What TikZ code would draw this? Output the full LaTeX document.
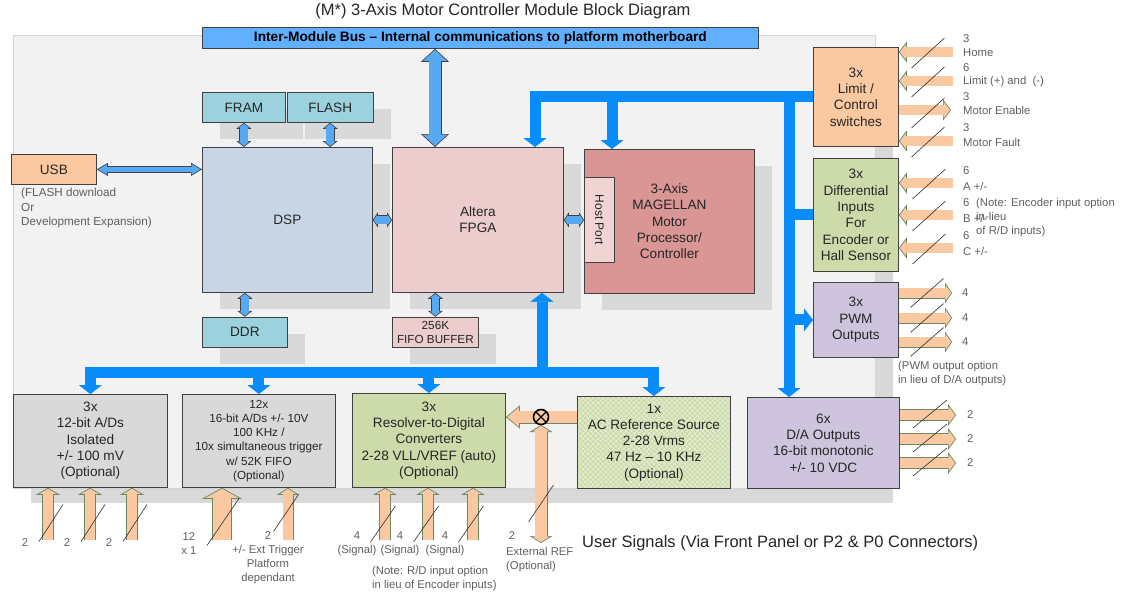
\documentclass[tikz,border=0pt]{standalone}
\usepackage{fontspec}
\setmainfont{Liberation Sans}
\usepackage{tikz}
\usetikzlibrary{arrows.meta, positioning, shadows, patterns.meta, calc}
\definecolor{panelbg}{RGB}{242,242,242}
\definecolor{panelln}{RGB}{212,212,212}
\definecolor{shgray}{RGB}{217,217,217}
\definecolor{boxln}{RGB}{64,64,64}
\definecolor{txtc}{RGB}{38,38,38}
\definecolor{lblc}{RGB}{95,95,95}
\definecolor{slashc}{RGB}{45,45,45}
\definecolor{busbar}{RGB}{97,176,255}
\definecolor{lblue}{RGB}{88,168,242}
\definecolor{busblue}{RGB}{8,140,252}
\definecolor{peach}{RGB}{250,201,162}
\definecolor{sigln}{RGB}{108,138,98}
\definecolor{dspc}{RGB}{200,213,229}
\definecolor{memc}{RGB}{156,210,222}
\definecolor{fpgac}{RGB}{236,204,204}
\definecolor{mpc}{RGB}{217,150,148}
\definecolor{hpc}{RGB}{240,212,212}
\definecolor{grnc}{RGB}{205,219,171}
\definecolor{hatchc}{RGB}{236,242,224}
\definecolor{lavc}{RGB}{206,196,221}
\definecolor{adc}{RGB}{217,217,217}
\tikzset{
  sig/.style n args={3}{draw=sigln, line width=#1,
    -{Triangle[length=#2, width=#3, fill=peach, line width=.7pt]},
    postaction={draw=peach, line width=#1-1.4pt, arrows=-, shorten >=#2-1.5pt}},
  sigtwo/.style n args={3}{draw=sigln, line width=#1,
    {Triangle[length=#2, width=#3, fill=peach, line width=.7pt]}-{Triangle[length=#2, width=#3, fill=peach, line width=.7pt]},
    postaction={draw=peach, line width=#1-1.4pt, arrows=-, shorten <=#2-1.5pt, shorten >=#2-1.5pt}},
  lb/.style n args={3}{draw=boxln, line width=#1,
    {Triangle[length=#2, width=#3, fill=lblue, line width=.6pt]}-{Triangle[length=#2, width=#3, fill=lblue, line width=.6pt]},
    postaction={draw=lblue, line width=#1-1.2pt, arrows=-, shorten <=#2-1.2pt, shorten >=#2-1.2pt}}
}

\begin{document}
\begin{tikzpicture}[x=1pt, y=-1pt, line join=miter]
\tikzstyle{blk}=[draw=boxln, line width=.8pt, text=txtc, align=center, anchor=north west, inner sep=0pt, font=\fontsize{13.6}{16.3}\selectfont]
\tikzstyle{shad}=[general shadow={fill=shgray, shadow xshift=18pt, shadow yshift=-17pt}]
\tikzstyle{lbl}=[text=lblc, inner sep=0pt, font=\fontsize{11.3}{14}\selectfont]
\tikzstyle{bus}=[draw=busblue, line width=11pt, >={Triangle[length=9pt, width=23pt, line width=.4pt]}]
\tikzstyle{slash}=[draw=slashc, line width=.6pt]

\useasboundingbox (0,0) rectangle (1133,594);

% board and its shadow
\fill[shgray] (31,50) rectangle (893,503);
\filldraw[fill=panelbg, draw=panelln, line width=.8pt] (13,35) rectangle (875,488);

\node[text=txtc, font=\fontsize{16.5}{19}\selectfont] (TTL) at (503,11) {(M*) 3-Axis Motor Controller Module Block Diagram};
\node[blk, fill=busbar, minimum width=556pt, minimum height=21pt, text=black, font=\bfseries\fontsize{13.7}{15}\selectfont] (BUS) at (202,27) {Inter-Module Bus – Internal communications to platform motherboard};

% processor core
\node[blk, shad, fill=memc, minimum width=83pt, minimum height=30pt] (FRAM) at (202,92) {FRAM};
\node[blk, shad, fill=memc, minimum width=86pt, minimum height=30pt, right=1pt of FRAM] (FLASH) {FLASH};
\node[blk, shad, fill=dspc, minimum width=170pt, minimum height=145pt] (DSP) at (202,147) {DSP};
\node[blk, shad, fill=memc, minimum width=85pt, minimum height=30pt, below=24pt of DSP.south west, anchor=north west] (DDR) {DDR};
\node[blk, shad, fill=fpgac, minimum width=171pt, minimum height=145pt] (FPGA) at (392,147) {Altera\\FPGA};
\node[blk, shad, fill=fpgac, minimum width=86pt, minimum height=30pt, font=\fontsize{11.7}{14.3}\selectfont, below=24pt of FPGA.south west, anchor=north west] (FIFO) {256K\\FIFO BUFFER};
\node[blk, shad, fill=mpc, minimum width=170pt, minimum height=144pt] (MP) at (584,149) {3-Axis\\MAGELLAN\\Motor\\Processor/\\Controller};
\node[blk, fill=hpc, minimum width=30pt, minimum height=85pt, font=\fontsize{12}{14}\selectfont] (HP) at (584,177) {\rotatebox{-90}{Host Port}};
\node[blk, fill=peach, minimum width=85pt, minimum height=30pt] (USB) at (11,154) {USB};
\node[lbl, anchor=west, align=left, font=\fontsize{11.7}{14.5}\selectfont] (USBN) at (21,208) {(FLASH download\\Or\\Development Expansion)};

% field side blocks
\node[blk, fill=peach, minimum width=85pt, minimum height=99pt] (LIM) at (813,47) {3x\\Limit /\\Control\\switches};
\node[blk, fill=grnc, minimum width=85pt, minimum height=113pt] (DIF) at (813,158) {3x\\Differential\\Inputs\\For\\Encoder or\\Hall Sensor};
\node[blk, fill=lavc, minimum width=85pt, minimum height=75pt] (PWM) at (813,282) {3x\\PWM\\Outputs};
\node[blk, fill=lavc, minimum width=152pt, minimum height=91pt] (DA) at (747,397) {6x\\D/A Outputs\\16-bit monotonic\\+/- 10 VDC};
\node[blk, fill=adc, minimum width=154pt, minimum height=93pt] (AD12) at (13,394) {3x\\12-bit A/Ds\\Isolated\\+/- 100 mV\\(Optional)};
\node[blk, fill=adc, minimum width=153pt, minimum height=93pt, font=\fontsize{11.7}{14.3}\selectfont] (AD16) at (182,394) {12x\\16-bit A/Ds +/- 10V\\100 KHz /\\10x simultaneous trigger\\w/ 52K FIFO\\(Optional)};
\node[blk, fill=grnc, minimum width=153pt, minimum height=94pt] (RD) at (352,393) {3x\\Resolver-to-Digital\\Converters\\2-28 VLL/VREF (auto)\\(Optional)};
\node[blk, fill=grnc, minimum width=153pt, minimum height=92pt,
  postaction={pattern={Lines[angle=45, distance=3.6pt, line width=.5pt]}, pattern color=hatchc},
  postaction={pattern={Lines[angle=-45, distance=3.6pt, line width=.5pt]}, pattern color=hatchc},
  postaction={draw=boxln, line width=.8pt}] (AC) at (577,396) {1x\\AC Reference Source\\2-28 Vrms\\47 Hz – 10 KHz\\(Optional)};

% local links
\coordinate (ib) at (435,0);
\draw[lb={13pt}{13pt}{28pt}] (ib |- BUS.south) -- (ib |- FPGA.north);
\draw[lb={9pt}{6pt}{15pt}] (FRAM.south) -- (FRAM.south |- DSP.north);
\draw[lb={9pt}{6pt}{15pt}] (FLASH.south) -- (FLASH.south |- DSP.north);
\draw[lb={9pt}{6pt}{15pt}] (DSP.south -| DDR.north) -- (DDR.north);
\draw[lb={9pt}{6pt}{15pt}] (FPGA.south -| FIFO.north) -- (FIFO.north);
\draw[lb={9pt}{5pt}{15pt}] (DSP.east) -- (FPGA.west);
\draw[lb={9pt}{5pt}{15pt}] (FPGA.east) -- (HP.west);
\draw[lb={7pt}{11pt}{13pt}] (USB.east) -- (USB.east -| DSP.west);

% motion bus
\coordinate (tb) at (535,0);
\coordinate (tm) at (612,0);
\coordinate (tv) at (789,0);
\coordinate (bb) at (542,372);
\draw[bus,->] (LIM.west) -- (tb |- LIM.west) -- (tb |- FPGA.north);
\draw[bus,->] (tm |- LIM.west) -- (tm |- MP.north);
\draw[bus,->] (tv |- LIM.west) -- (tv |- DA.north);
\draw[bus] (tv |- DIF.west) -- (DIF.west);
\draw[bus,->] (tv |- PWM.west) -- (PWM.west);
\draw[bus,->] (bb) -- (bb |- FPGA.south);
\draw[bus,<->] (AD12.north) -- (AD12.north |- bb) -- (AC.north |- bb) -- (AC.north);
\draw[bus,->] (AD16.north |- bb) -- (AD16.north);
\draw[bus,->] (RD.north |- bb) -- (RD.north);

% limit and control signals
\foreach \y/\num/\lab [count=\i] in {52/3/Home, 81/6/{Limit (+) and~ (-)}, 141/3/Motor Fault}{
  \coordinate (li\i) at (953,\y);
  \draw[sig={10.5pt}{8pt}{21pt}] (li\i) -- (li\i -| LIM.east);
  \draw[slash] (928,\y+1) ++(-16.5,15) -- ++(33,-30);
  \node[lbl, anchor=west] (lin\i) at (963,\y-13) {\num};
  \node[lbl, anchor=west] (lit\i) at (963,\y+1) {\lab};
}
\coordinate (me) at (951,110);
\draw[sig={10.5pt}{8pt}{21pt}] (me -| LIM.east) -- (me);
\draw[slash] (928,113) ++(-16.5,15) -- ++(33,-30);
\node[lbl, anchor=west] (men) at (963,97) {3};
\node[lbl, anchor=west] (met) at (963,110) {Motor Enable};

% encoder inputs
\foreach \y/\lab [count=\i] in {183/A, 215/B, 248/C}{
  \coordinate (di\i) at (953,\y);
  \draw[sig={10.5pt}{8pt}{21pt}] (di\i) -- (di\i -| DIF.east);
  \draw[slash] (929,\y+1) ++(-16.5,15) -- ++(33,-30);
  \node[lbl, anchor=west] (din\i) at (963,\y-12) {6};
  \node[lbl, anchor=west] (dit\i) at (963,\y+3) {\lab{} +/-};
}
\node[lbl, anchor=west, align=left] (DIFN) at (976,218) {(Note: Encoder input option\\in-lieu\\of R/D inputs)};

% PWM and D/A outputs
\foreach \y [count=\i] in {293,318,342}{
  \coordinate (pw\i) at (952,\y);
  \draw[sig={11pt}{7pt}{21pt}] (pw\i -| PWM.east) -- (pw\i);
  \draw[slash] (927,\y) ++(-16.5,14.5) -- ++(33,-29);
  \node[lbl, anchor=west] (pwn\i) at (962,\y) {4};
}
\node[lbl, anchor=west, align=left] (PWMN) at (898,374) {(PWM output option\\in lieu of D/A outputs)};
\foreach \y [count=\i] in {415,439,463}{
  \coordinate (da\i) at (956,\y);
  \draw[sig={11.5pt}{8pt}{22pt}] (da\i -| DA.east) -- (da\i);
  \draw[slash] (930,\y-1) ++(-17,14) -- ++(34,-28);
  \node[lbl, anchor=west] (dan\i) at (967,\y) {2};
}

% analog inputs
\foreach \x [count=\i] in {48,90,132}{
  \coordinate (ad\i) at (\x,540);
  \draw[sig={12pt}{7pt}{24pt}] (ad\i) -- (ad\i |- AD12.south);
  \draw[slash] (\x+3,523) ++(-12,18.5) -- ++(24,-37);
  \node[lbl] (adn\i) at (\x-23,543) {2};
}
\coordinate (tr1) at (222,540);
\coordinate (tr2) at (288,540);
\draw[sig={20pt}{11pt}{40pt}] (tr1) -- (tr1 |- AD16.south);
\draw[sig={11pt}{7pt}{22pt}] (tr2) -- (tr2 |- AD16.south);
\draw[slash] (223,522) ++(-16,23.5) -- ++(32,-47);
\draw[slash] (286,513) ++(-12.5,18.5) -- ++(25,-37);
\node[lbl, align=center] (trn1) at (189,543.5) {12\\x 1};
\node[lbl] (trn2) at (268,536) {2};
\node[lbl, align=center] (TRG) at (268,565) {+/- Ext Trigger\\Platform\\dependant};

% resolver inputs and reference
\foreach \x [count=\i] in {385,428,473}{
  \coordinate (rd\i) at (\x,540);
  \draw[sig={11.5pt}{7pt}{23pt}] (rd\i) -- (rd\i |- RD.south);
  \draw[slash] (\x-2,524) ++(-12.5,18) -- ++(25,-36);
  \node[lbl] (rdn\i) at (\x-28,536) {4};
  \node[lbl] (rds\i) at (\x-28,551) {(Signal)};
}
\node[lbl, anchor=west, align=left] (RDN) at (372,579) {(Note: R/D input option\\in lieu of Encoder inputs)};
\coordinate (xc) at (541,417);
\coordinate (er) at (541,543);
\draw[sig={13pt}{14pt}{23pt}] (xc -| AC.west) -- (xc -| RD.east);
\draw[sigtwo={13pt}{7pt}{23pt}] ($(xc)+(0,8)$) -- (er);
\node[circle, draw=black, line width=1.6pt, fill=peach, minimum size=15pt, inner sep=0pt,
  path picture={\draw[line width=1.2pt] (path picture bounding box.north west) -- (path picture bounding box.south east)
    (path picture bounding box.north east) -- (path picture bounding box.south west);}] (X) at (xc) {};
\draw[slash] (541,503.5) ++(-12.5,18.5) -- ++(25,-37);
\node[lbl] (ern) at (512,536) {2};
\node[lbl, anchor=west, align=left] (ERL) at (506,560) {External REF\\(Optional)};
\node[text=txtc, anchor=west, inner sep=0pt, font=\fontsize{16.5}{19}\selectfont] (USR) at (582,543) {User Signals (Via Front Panel or P2 \& P0 Connectors)};
\end{tikzpicture}
\end{document}
